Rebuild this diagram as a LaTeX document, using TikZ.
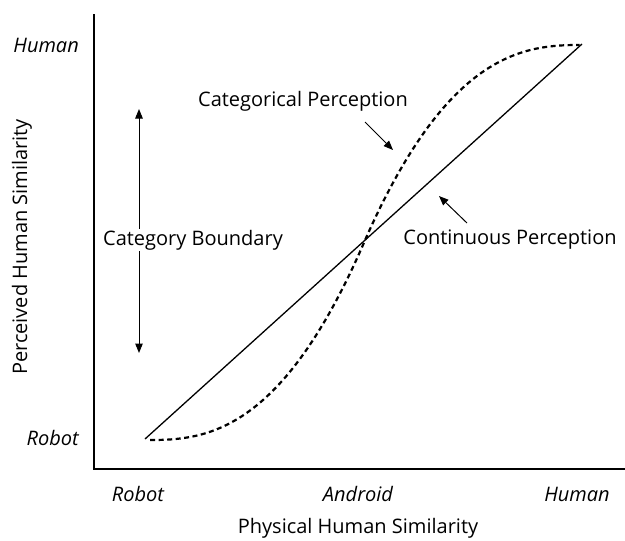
\documentclass[tikz,border=0pt]{standalone}
\usepackage{fontspec}
\setmainfont{Open Sans}
\usetikzlibrary{arrows.meta,positioning}

\begin{document}
\begin{tikzpicture}[x=1pt, y=-1pt,
    every node/.style={font=\fontsize{20}{24}\selectfont, inner sep=1pt},
    tick/.style={font=\fontsize{20}{24}\selectfont\itshape},
    axis/.style={line width=1.3pt},
    pointer/.style={-{Triangle[length=9.5pt,width=7.5pt]}, line width=1pt},
    curve/.style={line width=2.2pt, dash pattern=on 5pt off 3.5pt}]

  \useasboundingbox (0,0) rectangle (625,541);

  % axes
  \coordinate (top) at (94,14);
  \coordinate (origin) at (94,469);
  \coordinate (right) at (625,469);
  \draw[axis] (top) -- (origin) -- (right);

  % tick labels
  \node[tick, anchor=east] (yhuman) at (80,45) {Human};
  \node[tick, anchor=east] (yrobot) at (80,438) {Robot};
  \node[tick] (xrobot) at (138,494) {Robot};
  \node[tick] (xandroid) at (358,494) {Android};
  \node[tick] (xhuman) at (577,494) {Human};

  \node (xlabel) at (358,528) {Physical Human Similarity};
  \node[rotate=90] (ylabel) at (22,247) {Perceived Human Similarity};

  % lines
  \coordinate (lo) at (145,439);
  \coordinate (hi) at (582,44);
  \draw[line width=1.3pt] (lo) -- (hi);
  \draw[curve] plot[domain=0.001:1, samples=60] ({150+216*\x}, {440-202*\x^2.5})
    -- plot[domain=1:0.001, samples=60] ({580-214*\x}, {45+193*\x^2.5});

  % labels and pointers
  \node (boundary) at (193,240) {Category Boundary};
  \coordinate (btop) at (139,109);
  \coordinate (bbot) at (139,353);
  \draw[pointer] (boundary.north -| btop) -- (btop);
  \draw[pointer] (boundary.south -| bbot) -- (bbot);

  \node (categorical) at (303,101) {Categorical Perception};
  \coordinate (cattip) at (393,150);
  \draw[pointer] (365,122) -- (cattip);

  \node (continuous) at (510,240) {Continuous Perception};
  \coordinate (contip) at (439,196);
  \draw[pointer] (467,223) -- (contip);

\end{tikzpicture}
\end{document}
